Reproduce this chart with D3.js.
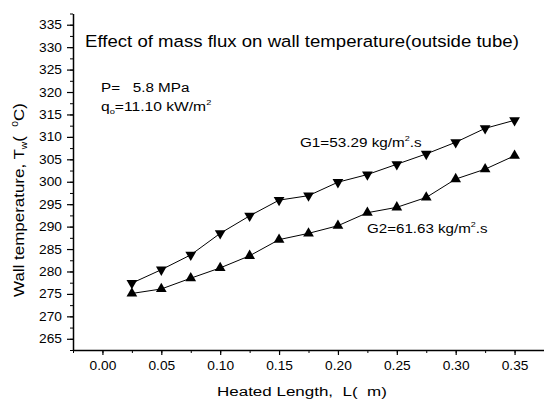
<!DOCTYPE html>
<html>
<head>
<meta charset="utf-8">
<script src="https://cdn.jsdelivr.net/npm/d3@7"></script>
<style>
  body { margin: 0; background: #fff; }
  svg { font-family: "Liberation Sans", Arial, sans-serif; }
  .axis path, .axis line { stroke: #000; }
  .axis text { fill: #000; font-size: 12.5px; }
</style>
</head>
<body>
<svg id="drawing_region"></svg>
<script>
// heated length (m)
const lengths = [0.025, 0.05, 0.075, 0.1, 0.125, 0.15, 0.175, 0.2, 0.225, 0.25, 0.275, 0.3, 0.325, 0.35];
// wall temperature (C), G1 = 53.29 kg/m2.s
const g1 = [277.4, 280.4, 283.7, 288.5, 292.4, 295.9, 296.9, 299.9, 301.6, 303.9, 306.2, 308.8, 311.9, 313.7];
// wall temperature (C), G2 = 61.63 kg/m2.s
const g2 = [275.1, 276.1, 278.5, 280.8, 283.5, 287.1, 288.5, 290.2, 293.1, 294.3, 296.5, 300.6, 302.8, 305.8];
const xTicks = [0, 0.05, 0.1, 0.15, 0.2, 0.25, 0.3, 0.35];
const yTicks = [265, 270, 275, 280, 285, 290, 295, 300, 305, 310, 315, 320, 325, 330, 335];

const width = 544, height = 403;
const svg = d3.select('#drawing_region')
    .attr('width', width)
    .attr('height', height);

const xscale = d3.scaleLinear().domain([-0.025, 0.375]).range([73, 544]);
const yscale = d3.scaleLinear().domain([262.5, 337.5]).range([350, 13.5]);

const xMinor = d3.range(-0.025, 0.376, 0.025).map(d => +d.toFixed(3));
const yMinor = d3.range(262.5, 337.6, 2.5);

// the source picture is a bit wider than tall, text is stretched sideways
const sx = 1.1;

// minor ticks first
svg.append('g').attr('class', 'axis')
    .attr('transform', 'translate(0,350)')
    .call(d3.axisBottom(xscale).tickValues(xMinor).tickSize(3).tickFormat(''))
    .call(g => g.select('.domain').remove());
svg.append('g').attr('class', 'axis')
    .attr('transform', 'translate(73,0)')
    .call(d3.axisLeft(yscale).tickValues(yMinor).tickSize(3).tickFormat(''))
    .call(g => g.select('.domain').remove());

// major ticks
svg.append('g').attr('class', 'axis')
    .attr('transform', 'translate(0,350)')
    .call(d3.axisBottom(xscale).tickValues(xTicks).tickSize(5).tickSizeOuter(0).tickPadding(6).tickFormat(d3.format('.2f')))
    .call(g => g.select('.domain').attr('stroke-width', 1.5))
    .call(g => g.selectAll('.tick line').attr('stroke-width', 1.2))
    .call(g => g.selectAll('.tick text').attr('transform', `scale(${sx},1)`));
svg.append('g').attr('class', 'axis')
    .attr('transform', 'translate(73,0)')
    .call(d3.axisLeft(yscale).tickValues(yTicks).tickSize(6).tickSizeOuter(0).tickPadding(4))
    .call(g => g.select('.domain').attr('stroke-width', 1.5))
    .call(g => g.selectAll('.tick line').attr('stroke-width', 1.2))
    .call(g => g.selectAll('.tick text').attr('x', -11 / sx).attr('transform', `scale(${sx},1)`));

const line = d3.line()
    .x((d, i) => xscale(lengths[i]))
    .y(d => yscale(d));

[g1, g2].forEach(s => {
    svg.append('path')
        .datum(s)
        .attr('d', line)
        .attr('fill', 'none')
        .attr('stroke', '#000')
        .attr('stroke-width', 1);
});

const tri = d3.symbol(d3.symbolTriangle, 50);

svg.append('g').selectAll('path')
    .data(g1)
    .join('path')
    .attr('d', tri)
    .attr('transform', (d, i) => `translate(${xscale(lengths[i])},${yscale(d)}) rotate(180)`)
    .attr('fill', '#000');

svg.append('g').selectAll('path')
    .data(g2)
    .join('path')
    .attr('d', tri)
    .attr('transform', (d, i) => `translate(${xscale(lengths[i])},${yscale(d)})`)
    .attr('fill', '#000');

// stretch a label sideways so it spans w pixels
function fit(t, x, y, w, rot) {
    const bw = t.node().getBBox().width;
    const k = w / bw;
    t.attr('x', 0).attr('y', 0)
        .attr('transform', `translate(${x},${y})` + (rot ? ` rotate(${rot})` : '') + ` scale(${k},1)`);
}

const title = svg.append('text')
    .attr('font-size', 16.5)
    .text('Effect of mass flux on wall temperature(outside tube)');
fit(title, 85, 47, 434);

const p = svg.append('text')
    .attr('font-size', 13.5)
    .attr('xml:space', 'preserve')
    .text('P=   5.8 MPa');
fit(p, 101, 92, 89);

const q = svg.append('text')
    .attr('font-size', 13.5);
q.append('tspan').text('q');
q.append('tspan').attr('font-size', 8).attr('dy', 3).text('o');
q.append('tspan').attr('dy', -3).text('=11.10 kW/m');
q.append('tspan').attr('font-size', 8).attr('dy', -6).text('2');
fit(q, 101, 111, 111);

function gLabel(x, y, w, name) {
    const t = svg.append('text').attr('font-size', 13.5);
    t.append('tspan').text(name + ' kg/m');
    t.append('tspan').attr('font-size', 8).attr('dy', -6).text('2');
    t.append('tspan').attr('dy', 6).text('.s');
    fit(t, x, y, w);
}
gLabel(300, 147, 122, 'G1=53.29');
gLabel(367, 233, 121, 'G2=61.63');

const xl = svg.append('text')
    .attr('font-size', 13.5)
    .attr('xml:space', 'preserve')
    .text('Heated Length,  L(  m)');
fit(xl, 217, 396, 170);

const yl = svg.append('text')
    .attr('text-anchor', 'middle')
    .attr('font-size', 14)
    .attr('xml:space', 'preserve');
yl.append('tspan').text('Wall temperature, T');
yl.append('tspan').attr('font-size', 8.5).attr('dy', 3).text('w');
yl.append('tspan').attr('dy', -3).text('(  ');
yl.append('tspan').attr('font-size', 8.5).attr('dy', -6).text('0');
yl.append('tspan').attr('dy', 6).text('C)');
fit(yl, 24, 200, 194, -90);
</script>
</body>
</html>
